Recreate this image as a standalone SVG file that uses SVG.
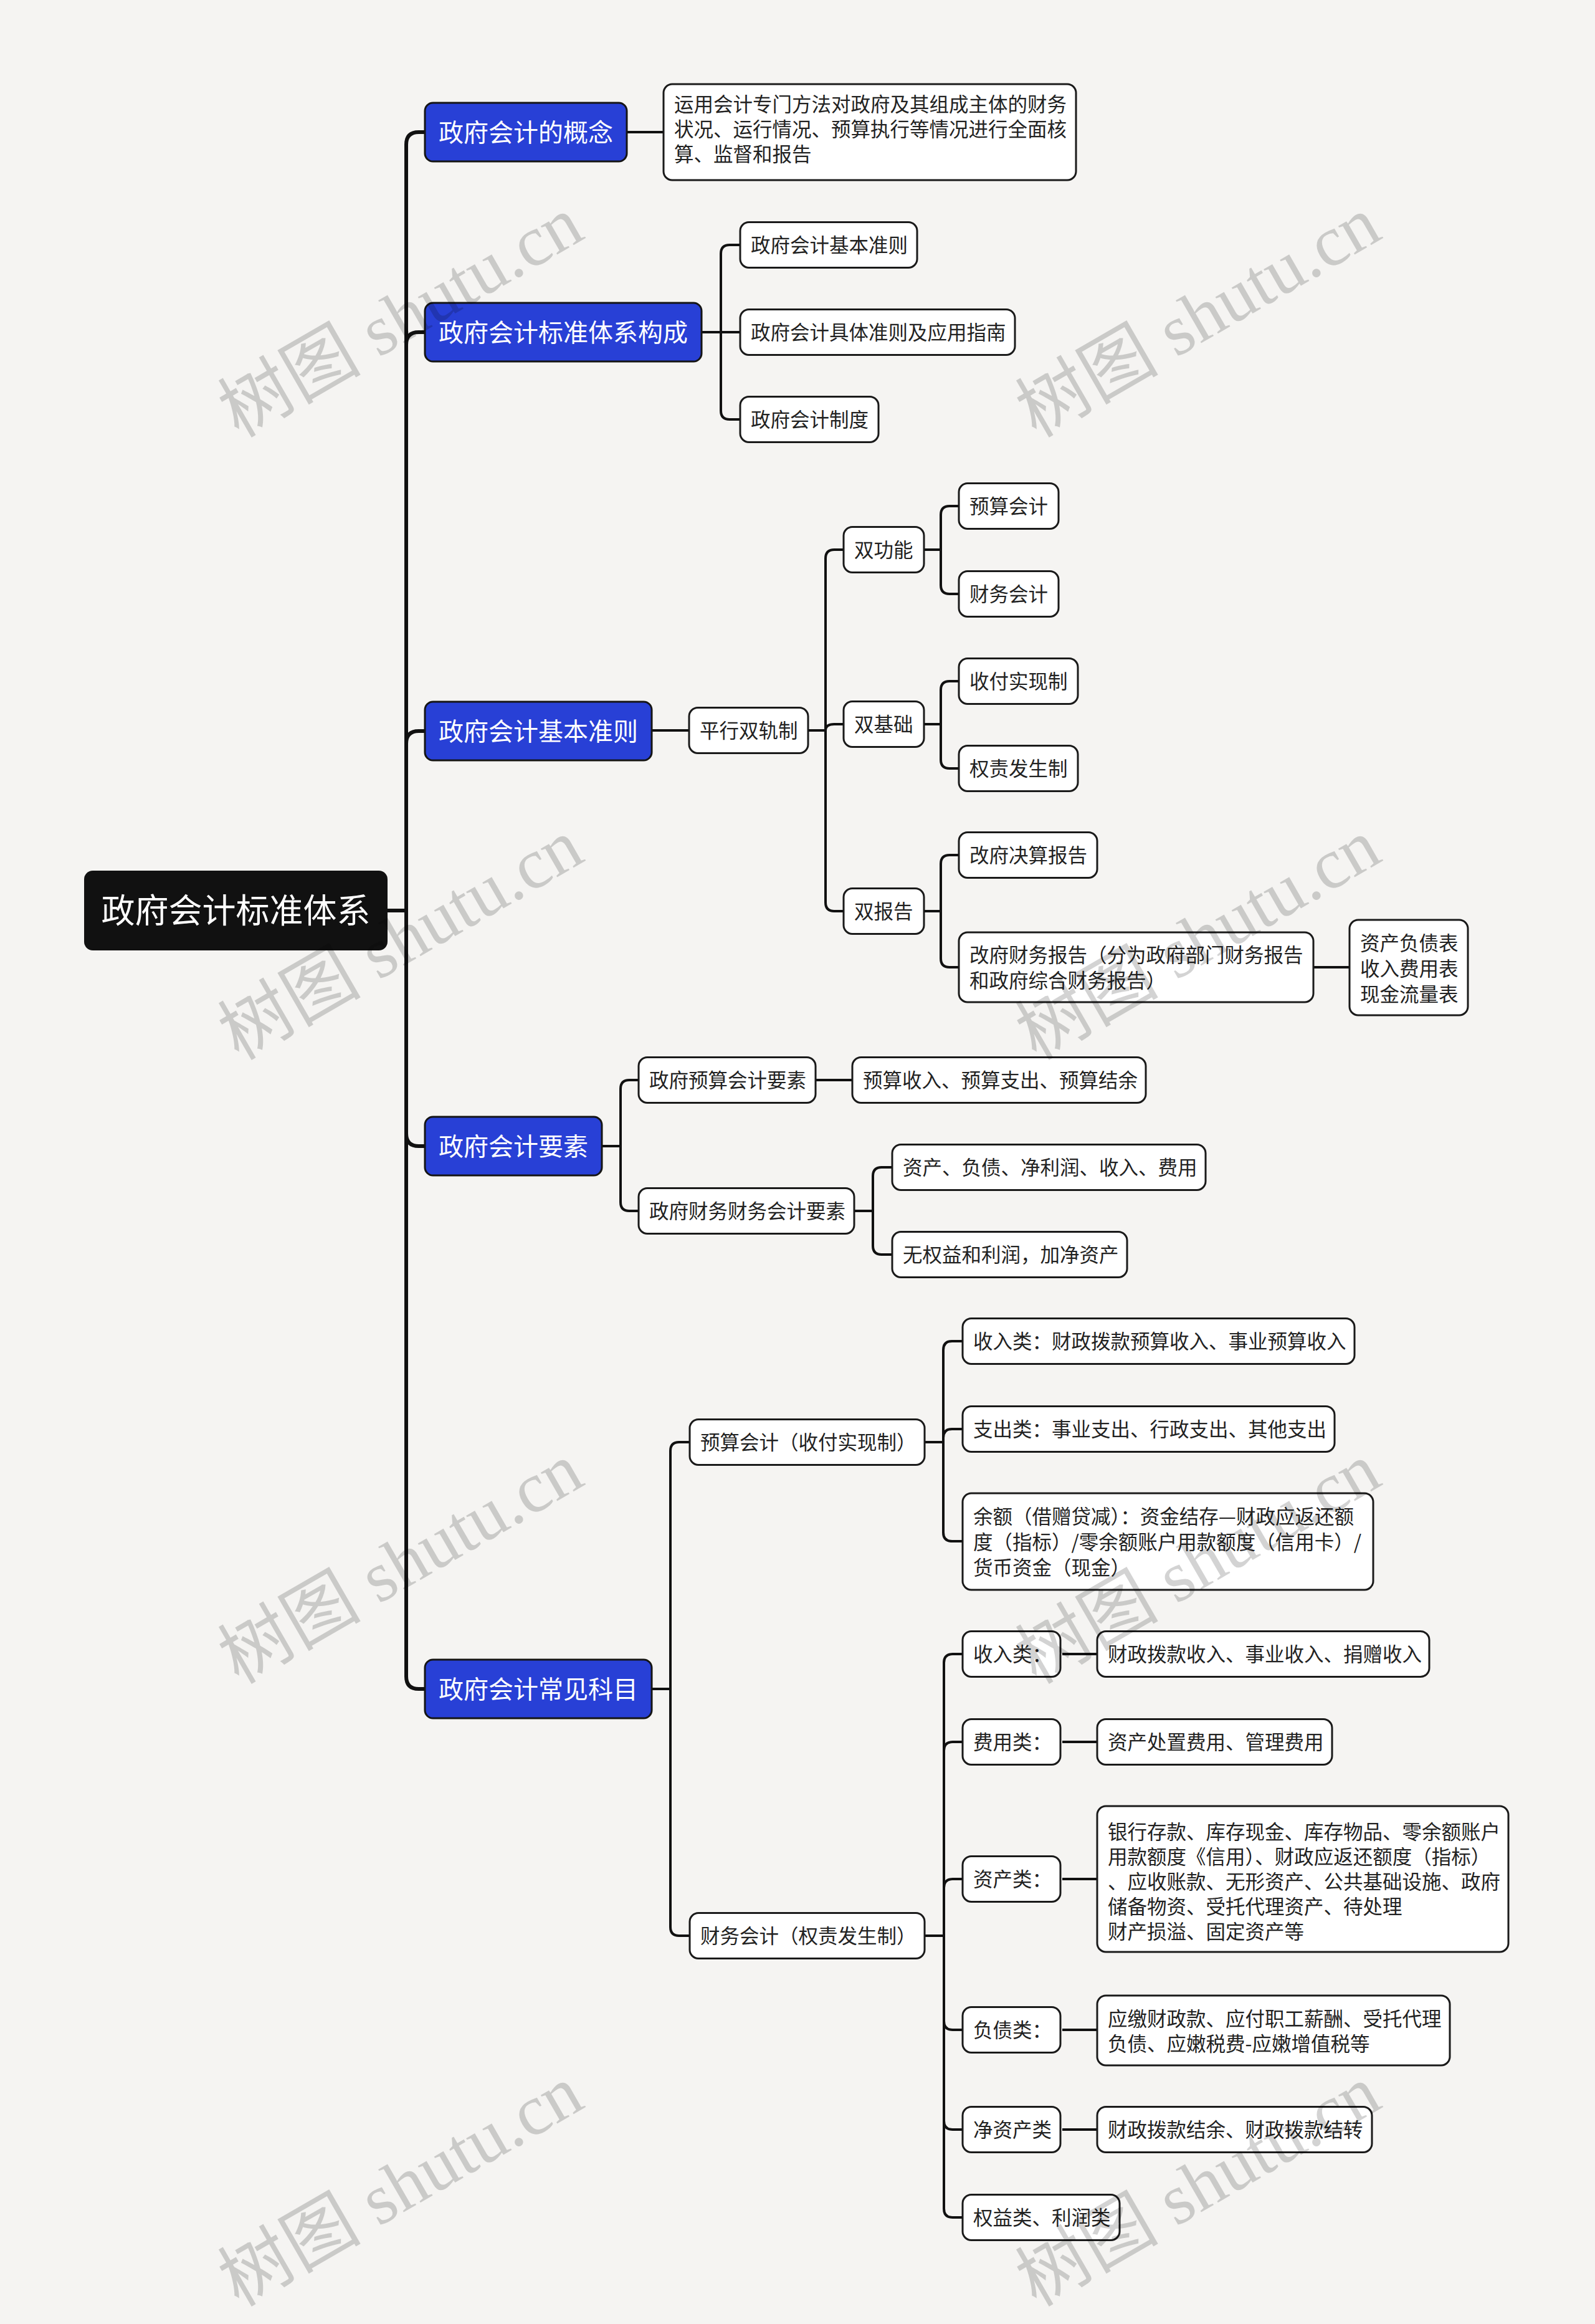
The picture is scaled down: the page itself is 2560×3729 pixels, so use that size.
<svg xmlns="http://www.w3.org/2000/svg" width="2560" height="3729" viewBox="0 0 2560 3729">
<style>
text{font-family:"Noto Sans CJK SC","Noto Sans",sans-serif;}
.root rect{fill:#111111;}
.root text{fill:#ffffff;font-size:54px;}
.l1 rect{fill:#2840d6;stroke:#151515;stroke-width:3;}
.l1 text{fill:#ffffff;font-size:40px;}
.n rect{fill:#ffffff;stroke:#1a1a1a;stroke-width:3;}
.n text{fill:#222222;font-size:31.5px;}
.c path{fill:none;stroke:#111111;stroke-width:4;stroke-linejoin:round;}
.c .s{stroke-width:6;}
.wm text{font-family:"Liberation Serif","Noto Sans CJK SC",serif;font-size:115px;fill:#000000;opacity:0.17;}
</style>
<rect x="0" y="0" width="2560" height="3729" fill="#f5f4f2"/>

<g id="connectors" class="c">
<path class="s" d="M622 1461 H652 V232 Q652 212 672 212 H682"/>
<path class="s" d="M622 1461 H652 V553 Q652 533 672 533 H682"/>
<path class="s" d="M622 1461 H652 V1193 Q652 1173 672 1173 H682"/>
<path class="s" d="M622 1461 H652 V1819 Q652 1839 672 1839 H682"/>
<path class="s" d="M622 1461 H652 V2690 Q652 2710 672 2710 H682"/>

<path d="M1006 212 H1065"/>

<path d="M1126 533 H1157 V407 Q1157 393 1171 393 H1188"/>
<path d="M1126 533 H1188"/>
<path d="M1126 533 H1157 V659 Q1157 673 1171 673 H1188"/>

<path d="M1046 1172 H1106"/>
<path d="M1297 1172 H1325 V896 Q1325 882 1339 882 H1354"/>
<path d="M1297 1172 H1325 Q1325 1162 1339 1162 H1354"/>
<path d="M1297 1172 H1325 V1448 Q1325 1462 1339 1462 H1354"/>

<path d="M1483 882 H1510 V826 Q1510 812 1524 812 H1539"/>
<path d="M1483 882 H1510 V939 Q1510 953 1524 953 H1539"/>
<path d="M1483 1162 H1510 V1107 Q1510 1093 1524 1093 H1539"/>
<path d="M1483 1162 H1510 V1219 Q1510 1233 1524 1233 H1539"/>
<path d="M1483 1462 H1510 V1386 Q1510 1372 1524 1372 H1539"/>
<path d="M1483 1462 H1510 V1538 Q1510 1552 1524 1552 H1539"/>
<path d="M2108 1552 H2166"/>

<path d="M966 1839 H996 V1747 Q996 1733 1010 1733 H1025"/>
<path d="M966 1839 H996 V1929 Q996 1943 1010 1943 H1025"/>
<path d="M1309 1733 H1368"/>
<path d="M1371 1943 H1401 V1887 Q1401 1873 1415 1873 H1432"/>
<path d="M1371 1943 H1401 V1999 Q1401 2013 1415 2013 H1432"/>

<path d="M1046 2710 H1076 V2328 Q1076 2314 1090 2314 H1107"/>
<path d="M1046 2710 H1076 V3092 Q1076 3106 1090 3106 H1107"/>
<path d="M1484 2314 H1514 V2166 Q1514 2152 1528 2152 H1545"/>
<path d="M1484 2314 H1514 V2307 Q1514 2293 1528 2293 H1545"/>
<path d="M1484 2314 H1514 V2459 Q1514 2473 1528 2473 H1545"/>

<path d="M1484 3106 H1515 V2668 Q1515 2654 1529 2654 H1545"/>
<path d="M1484 3106 H1515 V2809 Q1515 2795 1529 2795 H1545"/>
<path d="M1484 3106 H1515 V3029 Q1515 3015 1529 3015 H1545"/>
<path d="M1484 3106 H1515 V3243 Q1515 3257 1529 3257 H1545"/>
<path d="M1484 3106 H1515 V3403 Q1515 3417 1529 3417 H1545"/>
<path d="M1484 3106 H1515 V3544 Q1515 3558 1529 3558 H1545"/>
<path d="M1705 2654 H1761"/>
<path d="M1705 2795 H1761"/>
<path d="M1705 3015 H1761"/>
<path d="M1705 3257 H1761"/>
<path d="M1705 3417 H1761"/>
</g>

<g id="root" class="root"><rect x="135" y="1397" width="487" height="128" rx="14"/><text x="378.5" y="1481" text-anchor="middle">政府会计标准体系</text></g>

<g id="b1" class="l1"><rect x="682" y="165" width="324" height="94" rx="13"/><text x="704" y="227">政府会计的概念</text></g>
<g id="b2" class="l1"><rect x="682" y="486" width="444" height="94" rx="13"/><text x="704" y="548">政府会计标准体系构成</text></g>
<g id="b3" class="l1"><rect x="682" y="1126" width="364" height="94" rx="13"/><text x="704" y="1188">政府会计基本准则</text></g>
<g id="b4" class="l1"><rect x="682" y="1792" width="284" height="94" rx="13"/><text x="704" y="1854">政府会计要素</text></g>
<g id="b5" class="l1"><rect x="682" y="2663" width="364" height="94" rx="13"/><text x="704" y="2725">政府会计常见科目</text></g>

<g id="d1" class="n"><rect x="1065" y="135" width="662" height="154" rx="14"/><text x="1082" y="179">运用会计专门方法对政府及其组成主体的财务</text><text x="1082" y="219">状况、运行情况、预算执行等情况进行全面核</text><text x="1082" y="259">算、监督和报告</text></g>

<g id="n2a" class="n"><rect x="1188" y="356.5" width="284" height="73" rx="14"/><text x="1205" y="405">政府会计基本准则</text></g>
<g id="n2b" class="n"><rect x="1188" y="496.5" width="441" height="73" rx="14"/><text x="1205" y="545">政府会计具体准则及应用指南</text></g>
<g id="n2c" class="n"><rect x="1188" y="636.5" width="222" height="73" rx="14"/><text x="1205" y="685">政府会计制度</text></g>

<g id="p" class="n"><rect x="1106" y="1135.5" width="191" height="73" rx="14"/><text x="1123" y="1184">平行双轨制</text></g>
<g id="s1" class="n"><rect x="1354" y="845.5" width="129" height="73" rx="14"/><text x="1371" y="894">双功能</text></g>
<g id="s2" class="n"><rect x="1354" y="1125.5" width="129" height="73" rx="14"/><text x="1371" y="1174">双基础</text></g>
<g id="s3" class="n"><rect x="1354" y="1425.5" width="129" height="73" rx="14"/><text x="1371" y="1474">双报告</text></g>
<g id="t1" class="n"><rect x="1539" y="775.5" width="160" height="73" rx="14"/><text x="1556" y="824">预算会计</text></g>
<g id="t2" class="n"><rect x="1539" y="916.5" width="160" height="73" rx="14"/><text x="1556" y="965">财务会计</text></g>
<g id="t3" class="n"><rect x="1539" y="1056.5" width="191" height="73" rx="14"/><text x="1556" y="1105">收付实现制</text></g>
<g id="t4" class="n"><rect x="1539" y="1196.5" width="191" height="73" rx="14"/><text x="1556" y="1245">权责发生制</text></g>
<g id="t5" class="n"><rect x="1539" y="1335.5" width="222" height="73" rx="14"/><text x="1556" y="1384">改府决算报告</text></g>
<g id="t6" class="n"><rect x="1539" y="1496" width="569" height="112" rx="14"/><text x="1556" y="1544">改府财务报告（分为政府部门财务报告</text><text x="1556" y="1585">和政府综合财务报告）</text></g>
<g id="t7" class="n"><rect x="2166" y="1476" width="190" height="153" rx="14"/><text x="2183" y="1525">资产负债表</text><text x="2183" y="1566">收入费用表</text><text x="2183" y="1607">现金流量表</text></g>

<g id="e1" class="n"><rect x="1025" y="1696.5" width="284" height="73" rx="14"/><text x="1042" y="1745">政府预算会计要素</text></g>
<g id="e1a" class="n"><rect x="1368" y="1696.5" width="471" height="73" rx="14"/><text x="1385" y="1745">预算收入、预算支出、预算结余</text></g>
<g id="e2" class="n"><rect x="1025" y="1906.5" width="346" height="73" rx="14"/><text x="1042" y="1955">政府财务财务会计要素</text></g>
<g id="e2a" class="n"><rect x="1432" y="1836.5" width="503" height="73" rx="14"/><text x="1449" y="1885">资产、负债、净利润、收入、费用</text></g>
<g id="e2b" class="n"><rect x="1432" y="1976.5" width="377" height="73" rx="14"/><text x="1449" y="2025">无权益和利润，加净资产</text></g>

<g id="k1" class="n"><rect x="1107" y="2277.5" width="377" height="73" rx="14"/><text x="1124" y="2326">预算会计（收付实现制）</text></g>
<g id="k1a" class="n"><rect x="1545" y="2115.5" width="629" height="73" rx="14"/><text x="1562" y="2164">收入类：财政拨款预算收入、事业预算收入</text></g>
<g id="k1b" class="n"><rect x="1545" y="2256.5" width="597" height="73" rx="14"/><text x="1562" y="2305">支出类：事业支出、行政支出、其他支出</text></g>
<g id="k1c" class="n"><rect x="1545" y="2396" width="659" height="155" rx="14"/><text x="1562" y="2445">余额（借赠贷减）：资金结存—财政应返还额</text><text x="1562" y="2486">度（指标）/零余额账户用款额度（信用卡）/</text><text x="1562" y="2527">货币资金（现金）</text></g>

<g id="k2" class="n"><rect x="1107" y="3069.5" width="377" height="73" rx="14"/><text x="1124" y="3118">财务会计（权责发生制）</text></g>
<g id="c1" class="n"><rect x="1545" y="2617.5" width="157" height="73" rx="14"/><text x="1562" y="2666">收入类：</text></g>
<g id="c1v" class="n"><rect x="1761" y="2617.5" width="533" height="73" rx="14"/><text x="1778" y="2666">财政拨款收入、事业收入、捐赠收入</text></g>
<g id="c2" class="n"><rect x="1545" y="2758.5" width="157" height="73" rx="14"/><text x="1562" y="2807">费用类：</text></g>
<g id="c2v" class="n"><rect x="1761" y="2758.5" width="377" height="73" rx="14"/><text x="1778" y="2807">资产处置费用、管理费用</text></g>
<g id="c3" class="n"><rect x="1545" y="2978.5" width="157" height="73" rx="14"/><text x="1562" y="3027">资产类：</text></g>
<g id="c3v" class="n"><rect x="1761" y="2898" width="660" height="234" rx="14"/><text x="1778" y="2951">银行存款、库存现金、库存物品、零余额账户</text><text x="1778" y="2991">用款额度《信用）、财政应返还额度（指标）</text><text x="1778" y="3031">、应收账款、无形资产、公共基础设施、政府</text><text x="1778" y="3071">储备物资、受托代理资产、待处理</text><text x="1778" y="3111">财产损溢、固定资产等</text></g>
<g id="c4" class="n"><rect x="1545" y="3220.5" width="157" height="73" rx="14"/><text x="1562" y="3269">负债类：</text></g>
<g id="c4v" class="n"><rect x="1761" y="3202" width="566" height="112" rx="14"/><text x="1778" y="3251">应缴财政款、应付职工薪酬、受托代理</text><text x="1778" y="3291">负债、应嫩税费-应嫩增值税等</text></g>
<g id="c5" class="n"><rect x="1545" y="3380.5" width="157" height="73" rx="14"/><text x="1562" y="3429">净资产类</text></g>
<g id="c5v" class="n"><rect x="1761" y="3380.5" width="441" height="73" rx="14"/><text x="1778" y="3429">财政拨款结余、财政拨款结转</text></g>
<g id="c6" class="n"><rect x="1545" y="3521.5" width="252" height="73" rx="14"/><text x="1562" y="3570">权益类、利润类</text></g>

<g id="watermarks" class="wm">
<text transform="translate(645 512) rotate(-30)" text-anchor="middle" y="35">树图 shutu.cn</text>
<text transform="translate(1925 512) rotate(-30)" text-anchor="middle" y="35">树图 shutu.cn</text>
<text transform="translate(645 1511) rotate(-30)" text-anchor="middle" y="35">树图 shutu.cn</text>
<text transform="translate(1925 1511) rotate(-30)" text-anchor="middle" y="35">树图 shutu.cn</text>
<text transform="translate(645 2512) rotate(-30)" text-anchor="middle" y="35">树图 shutu.cn</text>
<text transform="translate(1925 2512) rotate(-30)" text-anchor="middle" y="35">树图 shutu.cn</text>
<text transform="translate(645 3511) rotate(-30)" text-anchor="middle" y="35">树图 shutu.cn</text>
<text transform="translate(1925 3511) rotate(-30)" text-anchor="middle" y="35">树图 shutu.cn</text>
</g>
</svg>
